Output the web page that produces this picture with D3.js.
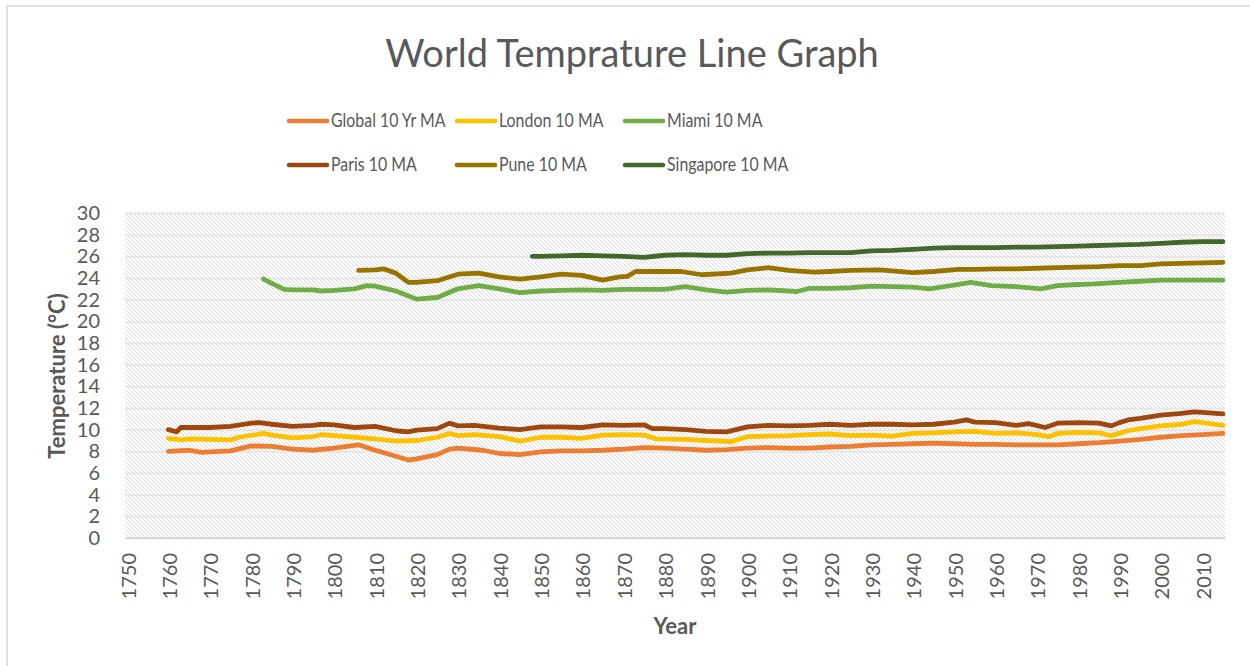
<!DOCTYPE html>
<html>
<head>
<meta charset="utf-8">
<script src="https://cdn.jsdelivr.net/npm/d3@7"></script>
<style>
  html, body { margin: 0; padding: 0; background: #fff; }
  svg text { font-family: Lato, "Open Sans", sans-serif; fill: #595959; }
</style>
</head>
<body>
<svg id="chart"></svg>
<script>
// readings: [year, temperature]
var globalMA = [[1760,8.0],[1765,8.1],[1768,7.9],[1770,7.95],[1775,8.05],[1780,8.5],[1785,8.45],[1790,8.2],[1795,8.1],[1800,8.3],[1806,8.6],[1810,8.1],[1815,7.55],[1818,7.2],[1820,7.3],[1825,7.7],[1828,8.2],[1830,8.3],[1836,8.1],[1840,7.8],[1845,7.7],[1850,7.95],[1855,8.05],[1860,8.05],[1865,8.1],[1870,8.2],[1875,8.35],[1880,8.3],[1885,8.2],[1890,8.1],[1895,8.15],[1900,8.3],[1905,8.35],[1910,8.3],[1915,8.3],[1920,8.4],[1925,8.45],[1930,8.6],[1935,8.65],[1940,8.7],[1945,8.75],[1950,8.7],[1955,8.65],[1960,8.65],[1965,8.6],[1970,8.6],[1975,8.6],[1980,8.7],[1985,8.8],[1990,8.95],[1995,9.1],[2000,9.3],[2005,9.45],[2010,9.55],[2015,9.65]];
var londonMA = [[1760,9.2],[1763,9.05],[1765,9.15],[1770,9.1],[1775,9.05],[1777,9.3],[1783,9.65],[1785,9.5],[1790,9.25],[1795,9.35],[1797,9.55],[1800,9.45],[1805,9.3],[1810,9.15],[1815,8.95],[1820,9.0],[1825,9.3],[1828,9.65],[1830,9.45],[1834,9.55],[1840,9.35],[1845,8.95],[1850,9.3],[1855,9.3],[1860,9.2],[1865,9.5],[1870,9.55],[1875,9.5],[1878,9.15],[1885,9.1],[1890,9.0],[1896,8.9],[1900,9.35],[1905,9.4],[1910,9.45],[1915,9.55],[1920,9.6],[1925,9.45],[1930,9.5],[1935,9.4],[1940,9.65],[1945,9.7],[1950,9.8],[1955,9.85],[1960,9.65],[1965,9.7],[1970,9.55],[1973,9.35],[1975,9.65],[1980,9.75],[1985,9.7],[1988,9.45],[1992,9.9],[1995,10.1],[2000,10.35],[2005,10.5],[2008,10.75],[2010,10.65],[2015,10.4]];
var miamiMA = [[1783,23.9],[1785,23.5],[1788,22.95],[1790,22.9],[1795,22.9],[1797,22.8],[1800,22.85],[1805,23.0],[1808,23.3],[1810,23.25],[1815,22.8],[1820,22.05],[1825,22.2],[1830,23.0],[1835,23.3],[1840,23.0],[1845,22.65],[1850,22.8],[1855,22.85],[1860,22.9],[1865,22.85],[1870,22.95],[1875,22.95],[1880,22.95],[1885,23.2],[1890,22.9],[1895,22.7],[1900,22.85],[1905,22.9],[1910,22.8],[1912,22.75],[1915,23.05],[1920,23.05],[1925,23.1],[1930,23.25],[1935,23.2],[1940,23.15],[1944,23.0],[1950,23.35],[1954,23.6],[1959,23.3],[1965,23.2],[1971,23.0],[1975,23.3],[1980,23.4],[1984,23.45],[1990,23.6],[1995,23.7],[2000,23.8],[2005,23.8],[2010,23.8],[2015,23.8]];
var parisMA = [[1760,10.0],[1762,9.8],[1763,10.2],[1765,10.2],[1770,10.2],[1775,10.3],[1780,10.6],[1782,10.65],[1785,10.5],[1790,10.3],[1795,10.4],[1797,10.5],[1800,10.45],[1805,10.2],[1810,10.3],[1815,9.9],[1818,9.8],[1820,9.95],[1825,10.1],[1828,10.6],[1830,10.35],[1834,10.4],[1840,10.15],[1845,10.0],[1850,10.25],[1855,10.25],[1860,10.2],[1865,10.45],[1870,10.4],[1875,10.45],[1877,10.1],[1880,10.1],[1885,10.0],[1890,9.85],[1895,9.8],[1900,10.25],[1905,10.4],[1910,10.35],[1915,10.4],[1920,10.5],[1925,10.4],[1930,10.5],[1935,10.5],[1940,10.45],[1945,10.5],[1950,10.7],[1953,10.9],[1955,10.7],[1960,10.65],[1965,10.4],[1968,10.55],[1972,10.2],[1975,10.6],[1980,10.65],[1985,10.6],[1988,10.35],[1990,10.65],[1992,10.9],[1995,11.05],[2000,11.35],[2005,11.5],[2008,11.65],[2010,11.6],[2015,11.45]];
var puneMA = [[1806,24.7],[1810,24.75],[1812,24.85],[1815,24.45],[1818,23.6],[1820,23.6],[1825,23.75],[1830,24.35],[1835,24.45],[1840,24.1],[1845,23.9],[1850,24.1],[1855,24.35],[1860,24.25],[1865,23.8],[1869,24.1],[1871,24.15],[1873,24.6],[1880,24.6],[1884,24.6],[1889,24.3],[1896,24.45],[1900,24.75],[1905,24.95],[1910,24.7],[1916,24.55],[1920,24.6],[1925,24.7],[1932,24.75],[1935,24.65],[1940,24.5],[1945,24.6],[1951,24.8],[1955,24.8],[1960,24.85],[1965,24.85],[1970,24.9],[1975,24.95],[1980,25.0],[1985,25.05],[1990,25.15],[1995,25.15],[2000,25.3],[2005,25.35],[2010,25.4],[2015,25.45]];
var singaporeMA = [[1848,26.0],[1850,26.0],[1855,26.05],[1860,26.1],[1865,26.05],[1870,26.0],[1875,25.9],[1880,26.1],[1885,26.15],[1890,26.1],[1895,26.1],[1900,26.25],[1905,26.3],[1910,26.3],[1915,26.35],[1920,26.35],[1925,26.35],[1930,26.5],[1935,26.55],[1940,26.65],[1945,26.75],[1950,26.8],[1955,26.8],[1960,26.8],[1965,26.85],[1970,26.85],[1975,26.9],[1980,26.95],[1985,27.0],[1990,27.05],[1995,27.1],[2000,27.2],[2005,27.3],[2010,27.35],[2015,27.35]];

var seriesNames = ["Global 10 Yr MA", "London 10 MA", "Miami 10 MA", "Paris 10 MA", "Pune 10 MA", "Singapore 10 MA"];
var seriesData = [globalMA, londonMA, miamiMA, parisMA, puneMA, singaporeMA];
var seriesColors = ["#ED7D31", "#FFC000", "#70AD47", "#9E480E", "#997300", "#43682B"];
var yearTicks = d3.range(1750, 2011, 10);
var tempTicks = d3.range(0, 31, 2);

var width = 1250, height = 666;
var plotLeft = 125, plotRight = 1225, plotTop = 213, plotBottom = 538;

var svg = d3.select("#chart").attr("width", width).attr("height", height);

// chart border
svg.append("rect")
    .attr("x", 7).attr("y", 6)
    .attr("width", width + 20).attr("height", height + 20)
    .attr("fill", "#fff").attr("stroke", "#d9d9d9").attr("stroke-width", 1.5);

// hatch pattern for the plot area
var defs = svg.append("defs");
var pat = defs.append("pattern")
    .attr("id", "hatch")
    .attr("patternUnits", "userSpaceOnUse")
    .attr("width", 4).attr("height", 4);
pat.append("path")
    .attr("d", "M-1,-1 L5,5 M-1,3 L1,5 M3,-1 L5,1")
    .attr("stroke", "#d6d6d6").attr("stroke-width", 0.9);

var x = d3.scaleLinear().domain([1749.5, 2015.5]).range([plotLeft, plotRight]);
var y = d3.scaleLinear().domain([0, 30]).range([plotBottom, plotTop]);

svg.append("rect")
    .attr("x", plotLeft).attr("y", plotTop)
    .attr("width", plotRight - plotLeft).attr("height", plotBottom - plotTop)
    .attr("fill", "url(#hatch)");

// gridlines
svg.append("g")
    .attr("transform", "translate(" + plotLeft + ",0)")
    .call(d3.axisLeft(y).tickValues(tempTicks).tickSize(-(plotRight - plotLeft)).tickFormat(""))
    .call(g => g.select(".domain").remove())
    .call(g => g.selectAll("line").attr("stroke", "#e6e6e6").attr("stroke-width", 2));

// y axis labels
svg.append("g")
    .attr("transform", "translate(" + plotLeft + ",0)")
    .call(d3.axisLeft(y).tickValues(tempTicks).tickSize(0).tickPadding(25))
    .call(g => g.select(".domain").remove())
    .call(g => g.selectAll("text")
        .style("font-family", "Lato, 'Open Sans', sans-serif")
        .attr("font-size", 20).attr("fill", "#595959"));

// x axis
svg.append("line")
    .attr("x1", plotLeft).attr("x2", plotRight)
    .attr("y1", plotBottom).attr("y2", plotBottom)
    .attr("stroke", "#d9d9d9").attr("stroke-width", 2);

var xAxis = svg.append("g")
    .attr("transform", "translate(0," + plotBottom + ")")
    .call(d3.axisBottom(x).tickValues(yearTicks).tickSize(0).tickFormat(d3.format("d")))
    .call(g => g.select(".domain").remove());
xAxis.selectAll("text")
    .style("font-family", "Lato, 'Open Sans', sans-serif")
    .attr("font-size", 20).attr("fill", "#595959")
    .attr("text-anchor", "end")
    .attr("dominant-baseline", "central")
    .attr("dy", null)
    .attr("y", 0)
    .attr("transform", "translate(0,15) rotate(-90)");

// lines
var line = d3.line()
    .x(d => x(d[0]))
    .y(d => y(d[1]));

svg.append("g")
    .selectAll("path")
    .data(seriesData)
    .enter()
        .append("path")
        .attr("d", line)
        .attr("fill", "none")
        .attr("stroke", (d, i) => seriesColors[i])
        .attr("stroke-width", 4.8)
        .attr("stroke-linejoin", "round")
        .attr("stroke-linecap", "round");

// title
svg.append("text")
    .attr("x", 632).attr("y", 67)
    .attr("text-anchor", "middle")
    .attr("font-size", 38)
    .text("World Temprature Line Graph");

// axis titles
svg.append("text")
    .attr("transform", "translate(65,376) rotate(-90)")
    .attr("text-anchor", "middle")
    .attr("font-size", 22).attr("font-weight", "bold")
    .text("Temperature (°C)");

svg.append("text")
    .attr("x", 675).attr("y", 634)
    .attr("text-anchor", "middle")
    .attr("font-size", 22).attr("font-weight", "bold")
    .text("Year");

// legend (text squeezed a bit horizontally, like the narrow original font)
var legend = svg.append("g")
    .selectAll("g")
    .data(seriesNames)
    .enter()
        .append("g")
        .attr("transform", (d, i) => "translate(" + (289 + (i % 3) * 168) + "," + (121 + Math.floor(i / 3) * 44) + ")");
legend.append("line")
    .attr("x1", 0).attr("x2", 38)
    .attr("stroke", (d, i) => seriesColors[i])
    .attr("stroke-width", 4.5)
    .attr("stroke-linecap", "round");
legend.append("text")
    .attr("transform", "translate(42,0) scale(0.86,1)")
    .attr("dy", "0.35em")
    .attr("font-size", 18.5)
    .text(d => d);
</script>
</body>
</html>
